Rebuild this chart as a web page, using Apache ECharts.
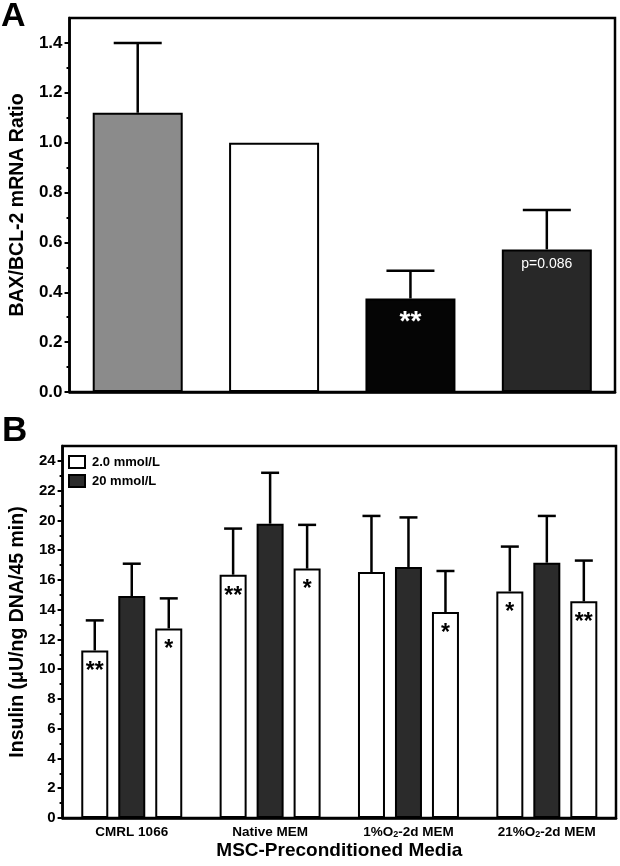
<!DOCTYPE html>
<html><head><meta charset="utf-8">
<script src="https://cdn.jsdelivr.net/npm/echarts@6/dist/echarts.min.js"></script>
<style>html,body{margin:0;padding:0;background:#fff}#c{width:620px;height:866px}</style>
</head><body><div id="c"></div>
<script>
// ---------- Panel A data ----------
const aCategories = ['CMRL 1066', 'Native MEM', '1%O2-2d MEM', '21%O2-2d MEM'];
const aRatio = [1.12, 1.00, 0.375, 0.572];
const aRatioErr = [0.28, 0, 0.111, 0.158];
const aMarks = ['', '', '**', 'p=0.086'];
const aMajorTicks = [0, 0.2, 0.4, 0.6, 0.8, 1.0, 1.2, 1.4];
const aMinorTicks = [0.1, 0.3, 0.5, 0.7, 0.9, 1.1, 1.3];

// ---------- Panel B data ----------
const bCategories = ['CMRL 1066', 'Native MEM', '1%O2-2d MEM', '21%O2-2d MEM'];
const bLowFirst = [11.26, 16.35, 16.53, 15.23];
const bLowFirstErr = [2.02, 3.10, 3.77, 3.01];
const bHigh = [14.92, 19.78, 16.87, 17.16];
const bHighErr = [2.17, 3.42, 3.33, 3.14];
const bLowSecond = [12.74, 16.76, 13.84, 14.56];
const bLowSecondErr = [2.02, 2.94, 2.76, 2.74];
const bLowFirstMarks = ['**', '**', '', '*'];
const bLowSecondMarks = ['*', '*', '*', '**'];
const bMajorTicks = [0, 2, 4, 6, 8, 10, 12, 14, 16, 18, 20, 22, 24];
const bMinorTicks = [1, 3, 5, 7, 9, 11, 13, 15, 17, 19, 21, 23];

// ---------- styles ----------
const FONT = "'Liberation Sans', Arial, Helvetica, sans-serif";
const aColors = ['#8b8b8b', '#ffffff', '#050505', '#282828'];
const darkFill = '#2b2b2b';

const chart = echarts.init(document.getElementById('c'), null, {renderer: 'canvas'});

function errSeries(xIdx, yIdx, means, errs, offset, cap) {
  return {
    type: 'custom', xAxisIndex: xIdx, yAxisIndex: yIdx, z: 5, silent: true,
    data: means.map((m, i) => [i, m, m + errs[i]]),
    encode: {x: 0, y: [1, 2]},
    renderItem: (params, api) => {
      if (!(api.value(2) > api.value(1))) return null;
      const b = api.coord([api.value(0), api.value(1)]);
      const t = api.coord([api.value(0), api.value(2)]);
      const x = b[0] + offset;
      return {type: 'group', children: [
        {type: 'line', shape: {x1: x, y1: b[1], x2: x, y2: t[1]}, style: {stroke: '#000', lineWidth: 2.5}},
        {type: 'line', shape: {x1: x - cap, y1: t[1], x2: x + cap, y2: t[1]}, style: {stroke: '#000', lineWidth: 2.5}}
      ]};
    }
  };
}

const subRich = {
  sub: {fontSize: 9, fontWeight: 'bold', fontFamily: FONT, color: '#000', verticalAlign: 'bottom', lineHeight: 9, padding: [5, 0, 0, 0]}
};

function majorAxis(gridIndex, max, ticks, name, nameGap, fmt, labelSize) {
  return {
    type: 'value', gridIndex, min: 0, max: max, position: 'left',
    name: name, nameLocation: 'middle', nameGap: nameGap,
    nameTextStyle: {fontFamily: FONT, fontWeight: 'bold', fontSize: 19.5, color: '#000'},
    axisLine: {show: true, lineStyle: {color: '#000', width: 2.5}},
    axisTick: {show: true, inside: false, length: 5, lineStyle: {color: '#000', width: 2}, customValues: ticks},
    axisLabel: {show: true, margin: 7, fontFamily: FONT, fontWeight: 'bold', fontSize: labelSize, color: '#000', customValues: ticks, formatter: fmt},
    splitLine: {show: false}
  };
}
function minorAxis(gridIndex, max, ticks) {
  return {
    type: 'value', gridIndex, min: 0, max: max, position: 'left',
    axisLine: {show: false},
    axisTick: {show: true, inside: false, length: 3, lineStyle: {color: '#000', width: 2}, customValues: ticks},
    axisLabel: {show: false},
    splitLine: {show: false}
  };
}

const option = {
  animation: false,
  backgroundColor: '#fff',
  textStyle: {fontFamily: FONT},
  graphic: [
    {type: 'text', left: 1, top: 0, style: {text: 'A', font: 'bold 34px ' + FONT, fill: '#000'}},
    {type: 'text', left: 2, top: 414, style: {text: 'B', font: 'bold 35px ' + FONT, fill: '#000'}}
  ],
  grid: [
    {left: 57, right: 5, top: 18, bottom: 474, show: true, borderColor: '#000', borderWidth: 2.5, backgroundColor: 'transparent'},
    {left: 57, right: 4, top: 446, bottom: 48, show: true, borderColor: '#000', borderWidth: 2.5, backgroundColor: 'transparent'}
  ],
  legend: {
    show: true, orient: 'vertical', left: 63, top: 450, itemWidth: 16, itemHeight: 12, itemGap: 5,
    icon: 'rect', data: ['2.0 mmol/L', '20 mmol/L'],
    itemStyle: {borderColor: '#000', borderWidth: 2},
    textStyle: {fontFamily: FONT, fontWeight: 'bold', fontSize: 13, color: '#000', padding: [0, 0, 0, 2]}
  },
  xAxis: [
    {type: 'category', gridIndex: 0, data: aCategories,
      axisLine: {show: true, lineStyle: {color: '#000', width: 2.5}},
      axisTick: {show: false}, axisLabel: {show: false}},
    {type: 'category', gridIndex: 1, data: bCategories,
      name: 'MSC-Preconditioned Media', nameLocation: 'middle', nameGap: 23,
      nameTextStyle: {fontFamily: FONT, fontWeight: 'bold', fontSize: 19, color: '#000'},
      axisLine: {show: true, lineStyle: {color: '#000', width: 2.5}},
      axisTick: {show: false},
      axisLabel: {show: true, interval: 0, margin: 7, fontFamily: FONT, fontWeight: 'bold', fontSize: 13.5, color: '#000',
        formatter: v => v.replace('O2', 'O{sub|2}'), rich: subRich}}
  ],
  yAxis: [
    majorAxis(0, 1.5, aMajorTicks, 'BAX/BCL-2 mRNA Ratio', 25, v => v.toFixed(1), 17),
    minorAxis(0, 1.5, aMinorTicks),
    majorAxis(1, 25, bMajorTicks, 'Insulin (\u03bcU/ng DNA/45 min)', 22, v => String(v), 15),
    minorAxis(1, 25, bMinorTicks)
  ],
  series: [
    {
      type: 'bar', name: 'BAX/BCL-2', xAxisIndex: 0, yAxisIndex: 0, data: aRatio, barWidth: 90,
      itemStyle: {color: p => aColors[p.dataIndex], borderColor: '#000', borderWidth: 2},
      label: {show: true, position: 'insideTop', distance: 4, color: '#fff',
        formatter: p => { const m = aMarks[p.dataIndex]; if (!m) return ''; return m.charAt(0) === 'p' ? '{p|' + m + '}' : '{s|' + m + '}'; },
        rich: {
          s: {fontFamily: FONT, fontWeight: 'bold', fontSize: 28, color: '#fff', padding: [6, 0, 0, 0]},
          p: {fontFamily: FONT, fontWeight: 'normal', fontSize: 14, color: '#fff', padding: [4, 0, 0, 0]}
        }}
    },
    errSeries(0, 0, aRatio, aRatioErr, 0, 24),
    {
      type: 'bar', name: '2.0 mmol/L', xAxisIndex: 1, yAxisIndex: 2, data: bLowFirst, barWidth: 27, barGap: '37%',
      itemStyle: {color: '#fff', borderColor: '#000', borderWidth: 2},
      label: {show: true, position: 'insideTop', distance: 10, color: '#000', fontFamily: FONT, fontWeight: 'bold', fontSize: 23,
        formatter: p => bLowFirstMarks[p.dataIndex]}
    },
    {
      type: 'bar', name: '20 mmol/L', xAxisIndex: 1, yAxisIndex: 2, data: bHigh, barWidth: 27, barGap: '37%',
      itemStyle: {color: darkFill, borderColor: '#000', borderWidth: 2}
    },
    {
      type: 'bar', name: '2.0 mmol/L', xAxisIndex: 1, yAxisIndex: 2, data: bLowSecond, barWidth: 27, barGap: '37%',
      itemStyle: {color: '#fff', borderColor: '#000', borderWidth: 2},
      label: {show: true, position: 'insideTop', distance: 10, color: '#000', fontFamily: FONT, fontWeight: 'bold', fontSize: 23,
        formatter: p => bLowSecondMarks[p.dataIndex]}
    },
    errSeries(1, 2, bLowFirst, bLowFirstErr, -37, 9),
    errSeries(1, 2, bHigh, bHighErr, 0, 9),
    errSeries(1, 2, bLowSecond, bLowSecondErr, 37, 9)
  ]
};
chart.setOption(option);
</script>
</body></html>
